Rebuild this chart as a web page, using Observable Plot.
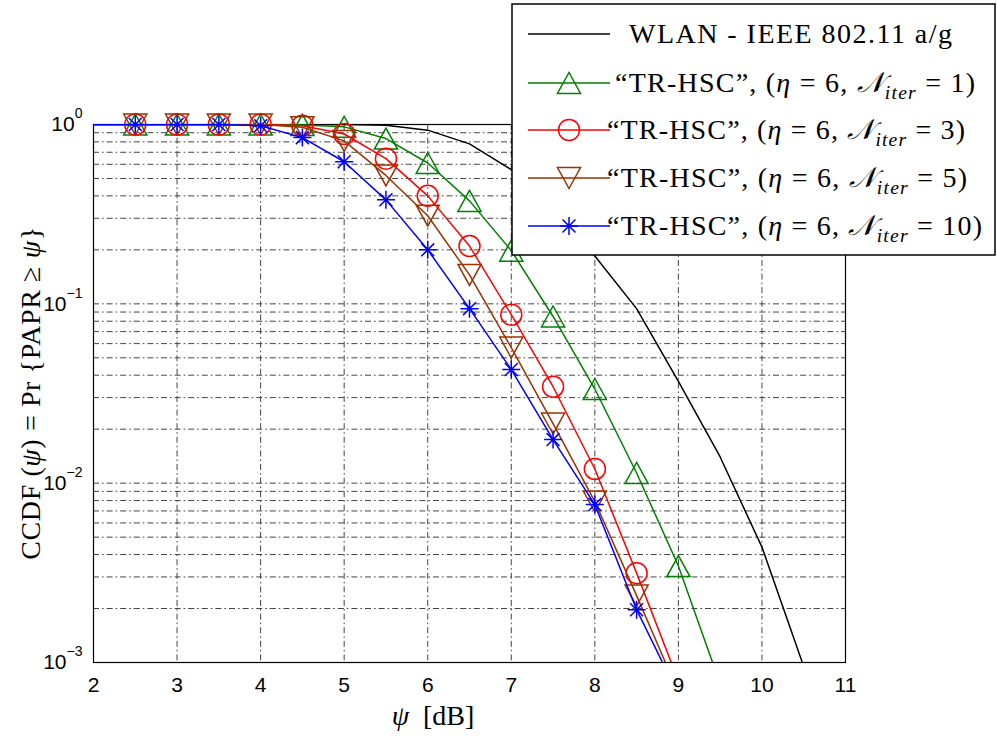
<!DOCTYPE html>
<html><head><meta charset="utf-8">
<script src="https://cdn.jsdelivr.net/npm/d3@7"></script>
<script src="https://cdn.jsdelivr.net/npm/@observablehq/plot@0.6"></script>
<style>body{margin:0;background:#fff} #chart{width:997px;height:738px}</style>
</head><body><div id="chart"></div>
<script>
// ---- data ----
const psi = [2, 2.5, 3, 3.5, 4, 4.5, 5, 5.5, 6, 6.5, 7, 7.5, 8, 8.5, 9, 9.5];
const psiWlan = [2, 2.5, 3, 3.5, 4, 4.5, 5, 5.5, 6, 6.5, 7, 7.5, 8, 8.5, 9, 9.5, 10, 10.5];
const ccdfWlan = [1, 1, 1, 1, 1, 1, 0.999, 0.99, 0.93, 0.78, 0.56, 0.33, 0.185, 0.094, 0.037, 0.014, 0.0044, 0.00095];
const ccdfIter1 = [1, 1, 1, 1, 1, 0.995, 0.97, 0.835, 0.61, 0.375, 0.198, 0.085, 0.0335, 0.0114, 0.00345, 0.00076];
const ccdfIter3 = [1, 1, 1, 1, 1, 0.985, 0.885, 0.645, 0.40, 0.21, 0.087, 0.0345, 0.012, 0.00315, 0.00079];
const ccdfIter5 = [1, 1, 1, 1, 1, 0.965, 0.81, 0.52, 0.31, 0.145, 0.057, 0.0215, 0.0079, 0.00236, 0.00068];
const ccdfIter10 = [1, 1, 1, 1, 0.985, 0.845, 0.62, 0.38, 0.20, 0.094, 0.043, 0.0175, 0.0076, 0.00197, 0.00066];
const seriesNames = ["wlan", "iter1", "iter3", "iter5", "iter10"];
const seriesColors = ["#000000", "#008000", "#ff0000", "#993300", "#0000ff"];
const iterCounts = ["1", "3", "5", "10"];
const xTicks = [2, 3, 4, 5, 6, 7, 8, 9, 10, 11];
const yTicks = [1, 0.1, 0.01, 0.001];
const yTickExponents = ["0", "\u22121", "\u22122", "\u22123"];
const xLabel = ["\u03c8", "  [dB]"];
const wlanLabel = "WLAN - IEEE 802.11 a/g";

// ---- symbols (MATLAB-like) ----
const triUp = {draw(c, s) { const r = Math.sqrt(s / Math.PI); c.moveTo(0, -r); c.lineTo(r * 1.1, r); c.lineTo(-r * 1.1, r); c.closePath(); }};
const triDown = {draw(c, s) { const r = Math.sqrt(s / Math.PI); c.moveTo(0, r); c.lineTo(r * 1.1, -r); c.lineTo(-r * 1.1, -r); c.closePath(); }};
const circ = {draw(c, s) { const r = Math.sqrt(s / Math.PI); c.moveTo(r, 0); c.arc(0, 0, r, 0, 2 * Math.PI); c.closePath(); }};
const aster = {draw(c, s) { const r = Math.sqrt(s / Math.PI), d = r * 0.72;
  c.moveTo(-r, 0); c.lineTo(r, 0); c.moveTo(0, -r); c.lineTo(0, r);
  c.moveTo(-d, -d); c.lineTo(d, d); c.moveTo(-d, d); c.lineTo(d, -d); }};
const seriesSymbols = [null, triUp, circ, triDown, aster];
const symbolR = [0, 10.5, 10.5, 10.5, 9];

// ---- table ----
const seriesX = [psiWlan, psi, psi, psi, psi];
const seriesY = [ccdfWlan, ccdfIter1, ccdfIter3, ccdfIter5, ccdfIter10];
const rows = [];
seriesNames.forEach((name, i) => seriesY[i].forEach((v, j) => rows.push({series: name, idx: i, x: seriesX[i][j], y: v})));

// grid positions (log minor ticks)
const gridY = [];
for (let k = -3; k < 0; k++) for (let m = 1; m <= 9; m++) gridY.push(m * Math.pow(10, k));
gridY.push(1);
const gridX = xTicks.slice(1, -1);
const dash = "6,3,1.6,3";

const marks = [
  Plot.ruleY(gridY, {stroke: "#444", strokeWidth: 1, strokeDasharray: dash}),
  Plot.ruleX(gridX, {stroke: "#444", strokeWidth: 1, strokeDasharray: dash}),
  Plot.frame({stroke: "#000", strokeWidth: 1.2}),
];
seriesNames.forEach((name, i) => {
  const data = rows.filter(d => d.series === name);
  marks.push(Plot.line(data, {x: "x", y: "y", stroke: seriesColors[i], strokeWidth: 1.5, clip: true}));
  if (seriesSymbols[i]) {
    marks.push(Plot.dot(data.filter(d => d.x >= 2.5 && d.y >= 0.001), {
      x: "x", y: "y", symbol: seriesSymbols[i], r: symbolR[i], stroke: seriesColors[i], fill: "none", strokeWidth: 1.5
    }));
  }
});
marks.push(
  Plot.axisX(xTicks, {tickSize: 0, tickPadding: 15, label: null}),
  Plot.axisY(yTicks, {tickSize: 0, tickPadding: 11, label: null,
    tickFormat: d => "10|" + yTickExponents[yTicks.indexOf(d)]})
);

const chart = Plot.plot({
  width: 997, height: 738,
  marginLeft: 93, marginRight: 152, marginTop: 124, marginBottom: 76,
  x: {domain: [2, 11]},
  y: {type: "log", domain: [0.001, 1]},
  style: {fontFamily: "'Liberation Sans', Arial, sans-serif", background: "white", color: "#000"},
  marks
});
document.getElementById("chart").appendChild(chart);

const svg = d3.select(chart);
svg.selectAll('g[aria-label="x-axis tick label"], g[aria-label="y-axis tick label"]')
  .attr("font-size", 21).style("font-size", "21px");
// superscript exponents on y tick labels
svg.selectAll('g[aria-label="y-axis tick label"] text').each(function() {
  const t = d3.select(this); const parts = t.text().split("|");
  t.text(null);
  t.append("tspan").text(parts[0]);
  t.append("tspan").attr("dy", -13).style("font-size", "14px").text(parts[1]);
});

const serif = "'Liberation Serif', 'Times New Roman', serif";
function addRich(g, parts) {
  let base = 0;
  parts.forEach(([s, st]) => {
    const ts = g.append("tspan").text(s);
    if (st === "i") ts.attr("font-style", "italic");
    if (st === "sub") { ts.attr("font-style", "italic").attr("font-size", "0.7em").attr("dy", 7); base = 7; }
    else if (base) { ts.attr("dy", -base); base = 0; }
  });
}

// y label
const yl = svg.append("text").attr("transform", "translate(40,393) rotate(-90)")
  .attr("text-anchor", "middle").attr("font-family", serif).attr("font-size", 28)
  .attr("letter-spacing", 0.6).attr("xml:space", "preserve").style("white-space", "pre");
addRich(yl, [["CCDF ("], ["\u03c8", "i"], [") = Pr {PAPR \u2265 "], ["\u03c8", "i"], ["}"]]);

// x label
const xl = svg.append("text").attr("x", 433).attr("y", 725).attr("text-anchor", "middle")
  .attr("font-family", serif).attr("font-size", 28).style("white-space", "pre");
addRich(xl, [[xLabel[0], "i"], [xLabel[1]]]);

// legend
const lg = svg.append("g").attr("text-anchor", "start");
lg.append("rect").attr("x", 512).attr("y", 4).attr("width", 483).attr("height", 251)
  .attr("fill", "white").attr("stroke", "black").attr("stroke-width", 1.5);
const rowY = [34, 83, 130, 178, 226];
const textX = [629, 615, 607, 607, 607];
const textLen = [323, 360, 358, 360, 375];
seriesNames.forEach((name, i) => {
  lg.append("line").attr("x1", 528).attr("x2", 610).attr("y1", rowY[i]).attr("y2", rowY[i])
    .attr("stroke", seriesColors[i]).attr("stroke-width", 1.5);
  if (seriesSymbols[i]) {
    lg.append("path").attr("transform", `translate(569,${rowY[i]})`)
      .attr("d", d3.symbol(seriesSymbols[i], symbolR[i] * symbolR[i] * Math.PI)())
      .attr("fill", "none").attr("stroke", seriesColors[i]).attr("stroke-width", 1.5);
  }
  const t = lg.append("text").attr("x", textX[i]).attr("y", rowY[i] + 9)
    .attr("font-family", serif).attr("font-size", 28).attr("text-anchor", "start")
    .attr("textLength", textLen[i]).attr("lengthAdjust", "spacing");
  if (i === 0) addRich(t, [[wlanLabel]]);
  else addRich(t, [["\u201cTR-HSC\u201d, ("], ["\u03b7", "i"], [" = 6, "], ["\ud835\udca9", "i"], ["iter", "sub"], [" = " + iterCounts[i - 1] + ")"]]);
});
</script></body></html>
